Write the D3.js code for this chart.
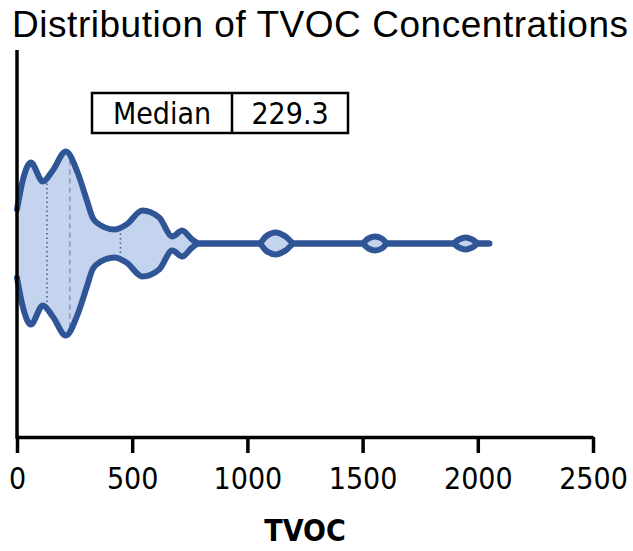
<!DOCTYPE html>
<html>
<head>
<meta charset="utf-8">
<script src="https://cdn.jsdelivr.net/npm/d3@7"></script>
<style>
  body { margin: 0; background: #fff; }
  svg { display: block; }
</style>
</head>
<body>
<svg id="chart" width="633" height="551"></svg>
<script>
// violin outline: TVOC value and relative half-width
const tvocPoints = [0, 26, 60, 112, 155, 212, 263, 302, 328, 345, 423, 475, 544, 617, 674, 717, 760, 790,
  1050, 1080, 1123, 1166, 1205, 1495, 1525, 1554, 1583, 1610, 1890, 1918, 1947, 1976, 2005, 2050];
const halfWidths = [34, 64, 81, 62, 73, 92, 71, 44, 26, 21, 14, 19, 33, 26, 7, 13, 4, 0,
  0, 7, 11, 7, 0, 0, 5, 7, 5, 0, 0, 4, 6, 4, 0, 0];
const quartiles = [130, 229.3, 449];   // Q1, median, Q3
const category = ["TVOC"];
const xTicks = [0, 500, 1000, 1500, 2000, 2500];
const medianLabel = "Median";
const medianValue = 229.3;

const svg = d3.select("#chart");
const x = d3.scaleLinear().domain([0, 2500]).range([17, 593]);
const y = d3.scalePoint().domain(category).range([437, 50]).padding(0.5);
const w = d3.scaleLinear().domain([0, 92]).range([0, 92]);

const lineColor = "#2f5597";
const fillColor = "#c5d4ee";
const labelFont = "font-family: 'DejaVu Sans Condensed', 'DejaVu Sans', sans-serif; font-size: 30px;";
const cy = y("TVOC");

const pts = tvocPoints.map((t, i) => ({ t, h: halfWidths[i] }));

// 标题
svg.append("text")
  .attr("x", 12).attr("y", 37)
  .attr("textLength", 616)
  .attr("style", "font-family: 'Liberation Sans', Arial, sans-serif; font-size: 37px; fill: #000;")
  .text("Distribution of TVOC Concentrations");

// violin fill
svg.append("path")
  .datum(pts)
  .attr("fill", fillColor)
  .attr("d", d3.area().curve(d3.curveMonotoneX)
    .x(d => x(d.t)).y0(d => cy - w(d.h)).y1(d => cy + w(d.h)));

// quartile lines
function halfAt(v) {
  const i = d3.bisectRight(tvocPoints, v);
  const a = pts[i - 1], b = pts[i];
  return a.h + (b.h - a.h) * (v - a.t) / (b.t - a.t);
}
svg.append("g").selectAll("line")
  .data(quartiles)
  .join("line")
  .attr("x1", d => x(d)).attr("x2", d => x(d))
  .attr("y1", d => cy - w(halfAt(d)) + 2)
  .attr("y2", d => cy + w(halfAt(d)) - 2)
  .attr("stroke", (d, i) => i === 1 ? "#8496b8" : "#4a5f8c")
  .attr("stroke-width", (d, i) => i === 1 ? 1.5 : 1.6)
  .attr("stroke-dasharray", (d, i) => i === 1 ? "5,4" : "1.5,3");

// violin outline top / bottom
const outline = svg.append("g")
  .attr("fill", "none")
  .attr("stroke", lineColor)
  .attr("stroke-width", 6)
  .attr("stroke-linecap", "round")
  .attr("stroke-linejoin", "round");
outline.append("path").datum(pts)
  .attr("d", d3.line().curve(d3.curveMonotoneX).x(d => x(d.t)).y(d => cy - w(d.h)));
outline.append("path").datum(pts)
  .attr("d", d3.line().curve(d3.curveMonotoneX).x(d => x(d.t)).y(d => cy + w(d.h)));

// axes
const xAxis = svg.append("g")
  .attr("transform", `translate(0,${437})`)
  .call(d3.axisBottom(x).tickValues(xTicks).tickSize(16).tickSizeOuter(0).tickPadding(15).tickFormat(d3.format("d")));
xAxis.select(".domain").attr("stroke", "#000").attr("stroke-width", 3.5);
xAxis.selectAll(".tick line").attr("stroke", "#000").attr("stroke-width", 3.5);
xAxis.selectAll(".tick text")
  .attr("fill", "#000")
  .attr("style", labelFont);

const yAxis = svg.append("g")
  .attr("transform", `translate(${x(0)},0)`)
  .call(d3.axisLeft(y).tickSize(0).tickSizeOuter(0).tickFormat(""));
yAxis.select(".domain").attr("stroke", "#000").attr("stroke-width", 3.5)
  .attr("d", `M0,${y.range()[1]}V${y.range()[0] + 1.5}`);

svg.append("text")
  .attr("x", (x(0) + x(2500)) / 2).attr("y", 541)
  .attr("text-anchor", "middle")
  .attr("style", "font-family: 'DejaVu Sans Condensed', 'DejaVu Sans', sans-serif; font-size: 30px; font-weight: bold;")
  .text("TVOC");

// median table
const box = svg.append("g").attr("transform", "translate(92,93)");
box.append("rect").attr("width", 256).attr("height", 40)
  .attr("fill", "#fff").attr("stroke", "#000").attr("stroke-width", 2.5);
box.append("line").attr("x1", 140).attr("x2", 140).attr("y1", 0).attr("y2", 40)
  .attr("stroke", "#000").attr("stroke-width", 2.5);
box.append("text").attr("x", 70).attr("y", 31).attr("text-anchor", "middle")
  .attr("style", labelFont)
  .text(medianLabel);
box.append("text").attr("x", 198).attr("y", 31).attr("text-anchor", "middle")
  .attr("style", labelFont)
  .text(d3.format(".1f")(medianValue));
</script>
</body>
</html>
